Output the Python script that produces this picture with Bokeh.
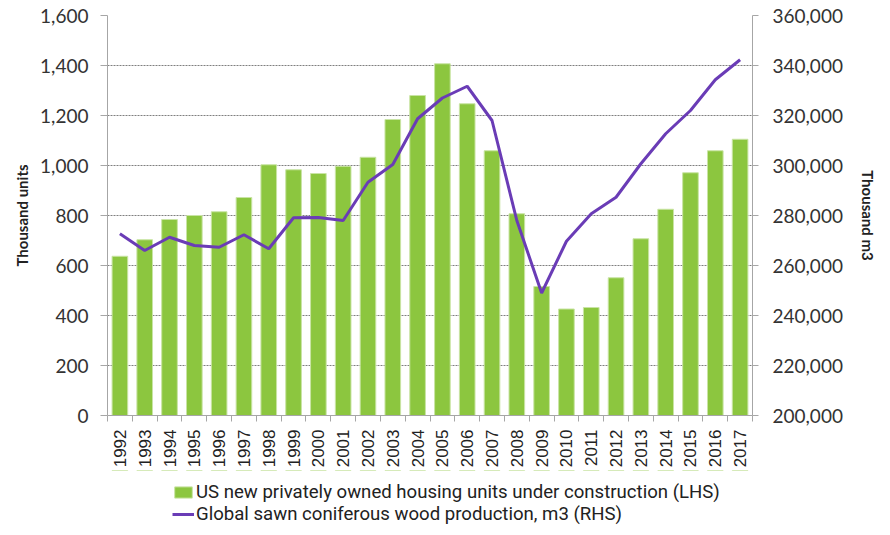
from bokeh.plotting import figure
from bokeh.layouts import column
from bokeh.models import (Range1d, LinearAxis, FixedTicker, NumeralTickFormatter,
                          Legend, LegendItem, BasicTickFormatter)
from bokeh.embed import file_html
from bokeh.resources import INLINE
import math

years = [1992, 1993, 1994, 1995, 1996, 1997, 1998, 1999, 2000, 2001, 2002, 2003, 2004,
         2005, 2006, 2007, 2008, 2009, 2010, 2011, 2012, 2013, 2014, 2015, 2016, 2017]
housing = [637, 703, 784, 800, 815, 872, 1003, 983, 968, 997, 1033, 1184, 1280,
           1407, 1247, 1059, 807, 516, 426, 432, 551, 707, 825, 971, 1059, 1105]
sawnwood = [272700, 266000, 271300, 268000, 267300, 272300, 266700, 279100, 279200, 278000,
            293300, 300400, 318700, 327000, 331700, 318000, 278000, 249000, 269700, 280700,
            287300, 300700, 312700, 322000, 334300, 342300]
lhs_ticks = [0, 200, 400, 600, 800, 1000, 1200, 1400, 1600]
rhs_ticks = [200000, 220000, 240000, 260000, 280000, 300000, 320000, 340000, 360000]
bar_label = "US new privately owned housing units under construction (LHS)"
line_label = "Global sawn coniferous wood production, m3 (RHS)"

GREEN = "#8CC63F"
BAR_EDGE = "#C9E4A4"
PURPLE = "#6A3CB6"
AXIS_GRAY = "#A6A6A6"
TICK_FONT = "Lato"

p = figure(width=890, height=470, output_backend="svg", toolbar_location=None,
           x_range=Range1d(years[0] - 0.5, years[-1] + 0.5),
           y_range=Range1d(lhs_ticks[0], lhs_ticks[-1]),
           min_border_left=107, min_border_right=138, min_border_top=15, min_border_bottom=55)
p.outline_line_color = None
p.background_fill_color = "white"
p.border_fill_color = "white"

p.extra_y_ranges = {"rhs": Range1d(rhs_ticks[0], rhs_ticks[-1])}

bars = p.vbar(x=years, top=housing, width=0.63, fill_color=GREEN,
              line_color=BAR_EDGE, line_width=1)
line = p.line(x=years, y=sawnwood, y_range_name="rhs", line_color=PURPLE, line_width=3)

# x axis
xa = p.xaxis[0]
xa.ticker = FixedTicker(ticks=years, minor_ticks=[y - 0.5 for y in years] + [years[-1] + 0.5])
xa.formatter = BasicTickFormatter(use_scientific=False)
xa.major_label_orientation = math.pi / 2
xa.major_label_text_font = "Liberation Sans"
xa.major_label_text_font_size = "17px"
xa.major_label_text_color = "#222222"
xa.major_tick_line_color = None
xa.minor_tick_line_color = AXIS_GRAY
xa.minor_tick_out = 6
xa.minor_tick_in = 0
xa.axis_line_color = AXIS_GRAY
xa.major_label_standoff = 8

# left axis
ya = p.yaxis[0]
ya.ticker = FixedTicker(ticks=lhs_ticks)
ya.formatter = NumeralTickFormatter(format="0,0")
ya.axis_label = "Thousand units"
ya.axis_label_text_font = TICK_FONT
ya.axis_label_text_font_style = "bold"
ya.axis_label_text_font_size = "15px"
ya.axis_label_text_color = "#222222"
ya.major_label_text_font = TICK_FONT
ya.major_label_text_font_size = "19px"
ya.major_label_text_color = "#333333"
ya.axis_line_color = AXIS_GRAY
ya.major_tick_line_color = AXIS_GRAY
ya.major_tick_out = 7
ya.major_tick_in = 0
ya.minor_tick_line_color = None
ya.major_label_standoff = 12
ya.axis_label_standoff = 6

# right axis
ra = LinearAxis(y_range_name="rhs", ticker=FixedTicker(ticks=rhs_ticks),
                formatter=NumeralTickFormatter(format="0,0"),
                axis_label="Thousand m3")
ra.axis_label_text_font = TICK_FONT
ra.axis_label_text_font_style = "bold"
ra.axis_label_text_font_size = "15px"
ra.axis_label_text_color = "#222222"
ra.major_label_text_font = TICK_FONT
ra.major_label_text_font_size = "19px"
ra.major_label_text_color = "#333333"
ra.axis_line_color = AXIS_GRAY
ra.major_tick_line_color = AXIS_GRAY
ra.major_tick_out = 6
ra.major_tick_in = 0
ra.minor_tick_line_color = None
ra.major_label_standoff = 14
ra.axis_label_standoff = 13
p.add_layout(ra, "right")

p.xgrid.grid_line_color = None
p.ygrid.ticker = FixedTicker(ticks=lhs_ticks)
p.ygrid.grid_line_color = "#7F7F7F"
p.ygrid.grid_line_dash = "2 1"
p.ygrid.grid_line_width = 1

# legend strip below the chart (its renderers lie outside its visible ranges)
lg = figure(width=890, height=65, output_backend="svg", toolbar_location=None,
            x_range=Range1d(years[0] - 0.5, years[-1] + 0.5), y_range=Range1d(-2, -1),
            min_border_left=107, min_border_right=138, min_border_top=0, min_border_bottom=0)
lg.axis.visible = False
lg.grid.visible = False
lg.outline_line_color = None
lg_bars = lg.vbar(x=years, top=housing, width=0.63, fill_color=GREEN,
                  line_color=BAR_EDGE, line_width=1)
lg_line = lg.line(x=years, y=sawnwood, line_color=PURPLE, line_width=3)

legend = Legend(items=[LegendItem(label=bar_label, renderers=[lg_bars]),
                       LegendItem(label=line_label, renderers=[lg_line])],
                location=(65, 10), orientation="vertical",
                label_text_font="Roboto", label_text_font_size="18.6px",
                label_text_color="#222222",
                glyph_width=22, glyph_height=14, label_standoff=2,
                label_height=18, spacing=-3, padding=0, margin=0,
                background_fill_alpha=0, border_line_color=None)
lg.add_layout(legend, "center")

layout = column(p, lg, spacing=0)
open("out.html", "w").write(file_html(layout, INLINE))
